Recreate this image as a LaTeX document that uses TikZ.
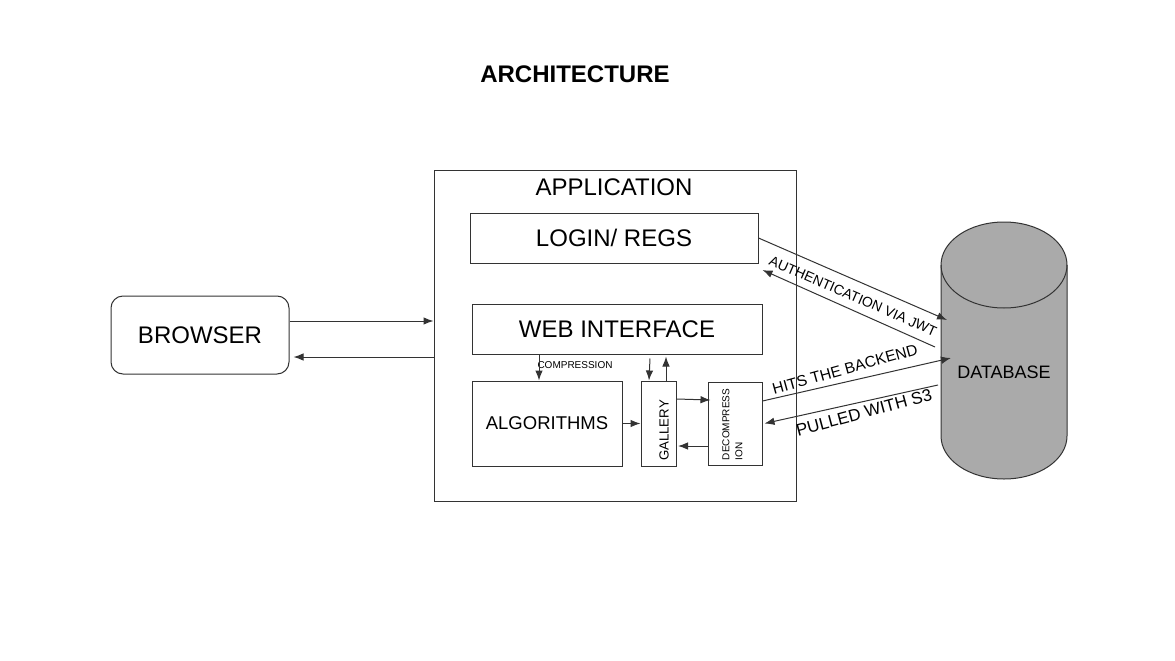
\documentclass[tikz,border=0pt]{standalone}
\usepackage{fontspec}
\setmainfont{Liberation Sans}
\usetikzlibrary{arrows.meta,calc}
\definecolor{ln}{HTML}{333333}
\definecolor{dbgray}{HTML}{AAAAAA}
\newcommand{\myfs}[1]{\fontsize{#1}{#1}\selectfont}
\begin{document}
\begin{tikzpicture}[x=1pt,y=1pt,
  box/.style={draw=ln,line width=1pt,inner sep=0pt,anchor=center},
  arr/.style={draw=ln,line width=1pt,-{Latex[length=10pt,width=7.5pt]}},
  txt/.style={inner sep=0pt,anchor=center,text=black}]
\useasboundingbox (0,0) rectangle (1175,-661);
\fill[white] (0,0) rectangle (1175,-661);
% title
\node[txt,font=\bfseries\myfs{24}] (title) at (575,-74) {ARCHITECTURE};
% application
\node[box,minimum width=362,minimum height=331] (app) at (615,-335.5) {};
\node[txt,font=\myfs{24}] (applbl) at (614,-187.5) {APPLICATION};
\node[box,minimum width=288,minimum height=50,font=\myfs{24}] (login) at (614,-238) {LOGIN/ REGS};
\node[box,minimum width=290,minimum height=50,font=\myfs{24}] (web) at (617,-329) {WEB INTERFACE};
\node[box,minimum width=150,minimum height=85,font=\myfs{18.5}] (algo) at (547,-423.5) {ALGORITHMS};
\node[box,minimum width=35,minimum height=85] (gallery) at (658.5,-423.5) {};
\node[txt,rotate=90,font=\myfs{13.2}] (gallbl) at (664,-430.5) {GALLERY};
\node[box,minimum width=54,minimum height=83] (decomp) at (735,-423.5) {};
\node[txt,rotate=90,align=left,font=\fontsize{10}{13}\selectfont] (declbl) at (732.5,-424.5) {DECOMPRESS\\ION};
\node[txt,font=\myfs{10}] (complbl) at (575,-365.5) {COMPRESSION};
% browser
\node[box,rounded corners=12,minimum width=178,minimum height=78,font=\myfs{24}] (browser) at (200,-335) {BROWSER};
% database
\path[draw=ln,line width=1pt,fill=dbgray] (941,-265) -- (941,-436)
  arc[start angle=180,end angle=360,x radius=63,y radius=43] -- (1067,-265)
  arc[start angle=0,end angle=180,x radius=63,y radius=43] -- cycle;
\draw[ln,line width=1pt] (941,-265) arc[start angle=180,end angle=360,x radius=63,y radius=43];
\node[txt,font=\myfs{18}] (db) at (1004,-372.5) {DATABASE};
\coordinate (dbA) at (947,-320);
\coordinate (dbB) at (935,-347);
\coordinate (dbC) at (951,-358);
\coordinate (dbD) at (938,-385);
% browser <-> app
\draw[arr] (browser.east |- 0,-321) -- (app.west |- 0,-321);
\draw[arr] (app.west |- 0,-357) -- ([xshift=4]browser.east |- 0,-357);
% inside
\draw[arr] ([xshift=-8]algo.north |- web.south) -- ([xshift=-8]algo.north);
\draw[arr] (algo.east) -- (gallery.west);
\draw[arr] ([xshift=-8.5,yshift=22]gallery.north) -- ([xshift=-9.5]gallery.north);
\draw[arr] ([xshift=7.5]gallery.north) -- ([xshift=7.5,yshift=-2]gallery.north |- web.south);
\draw[arr] ([yshift=24.5]gallery.east) -- ([xshift=3,yshift=23.5]decomp.west);
\draw[arr] ([yshift=-22.5]decomp.west) -- ([xshift=1.5,yshift=-22.5]gallery.east);
% to database
\draw[arr] (login.east) -- (dbA);
\draw[arr] (dbB) -- ([xshift=4,yshift=-32]login.east);
\draw[arr] ([yshift=22.5]decomp.east) -- (dbC);
\draw[arr] (dbD) -- ([xshift=2]decomp.east);
\node[txt,rotate=-23.5,font=\myfs{14}] (authlbl) at (853,-296) {AUTHENTICATION VIA JWT};
\node[txt,rotate=15.5,font=\myfs{15.5}] (hitslbl) at (845,-369) {HITS THE BACKEND};
\node[txt,rotate=15,font=\myfs{17}] (pulllbl) at (864,-412.5) {PULLED WITH S3};
\end{tikzpicture}
\end{document}
